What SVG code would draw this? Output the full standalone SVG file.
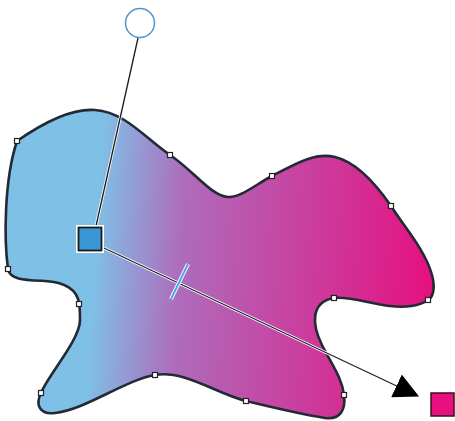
<svg xmlns="http://www.w3.org/2000/svg" width="455" height="421" viewBox="0 0 455 421">
<defs>
<linearGradient id="g" gradientUnits="userSpaceOnUse" x1="95" y1="250" x2="435" y2="270">
<stop offset="0" stop-color="#7fc0e6"/>
<stop offset="0.25" stop-color="#ae6cbc"/>
<stop offset="1" stop-color="#e6107f"/>
</linearGradient>
<marker id="arr" viewBox="0 0 10 10" refX="2" refY="5" markerWidth="25" markerHeight="25" markerUnits="userSpaceOnUse" orient="auto">
<path d="M0,0 L10,5 L0,10 Z" fill="#000"/>
</marker>
</defs>
<style>
.node{fill:#fff;stroke:#222;stroke-width:1.2}
.outline{stroke:#222a35;stroke-width:2.6;fill:url(#g)}
</style>
<g id="shape">
<path class="outline" d="M17,141 C40,125 70,108 95,110 C125,112 145,138 170,155 C195,172 210,195 228,197 C240,198 255,185 272,176 C295,164 315,152 335,157 C360,163 380,190 391,206 C405,228 425,250 432,275 C436,290 432,298 428,300 C420,306 405,308 390,306 C370,304 350,296 334,298 C310,302 312,325 322,345 C332,365 342,378 344,395 C346,410 340,420 325,418 C300,414 275,408 246,401 C215,393 185,370 155,375 C125,380 85,410 55,413 C40,415 35,405 41,393 C48,375 80,340 80,320 C80,312 80,308 79,304 C78,290 65,282 45,281 C25,280 10,280 8,269 C4,240 4,180 17,141 Z"/>
</g>
<g id="nodes">
<rect class="node" x="14.5" y="138.5" width="5" height="5"/>
<rect class="node" x="167.5" y="152.5" width="5" height="5"/>
<rect class="node" x="269.5" y="173.5" width="5" height="5"/>
<rect class="node" x="388.5" y="203.5" width="5" height="5"/>
<rect class="node" x="425.5" y="297.5" width="5" height="5"/>
<rect class="node" x="331.5" y="295.5" width="5" height="5"/>
<rect class="node" x="341.5" y="392.5" width="5" height="5"/>
<rect class="node" x="243.5" y="398.5" width="5" height="5"/>
<rect class="node" x="152.5" y="372.5" width="5" height="5"/>
<rect class="node" x="38.5" y="390.5" width="5" height="5"/>
<rect class="node" x="76.5" y="301.5" width="5" height="5"/>
<rect class="node" x="5.5" y="266.5" width="5" height="5"/>
</g>
<g id="connectors">
<line x1="138" y1="38" x2="96" y2="226" stroke="#fff" stroke-width="3"/>
<line x1="138" y1="38" x2="96" y2="226" stroke="#1a1a1a" stroke-width="1.3"/>
<line x1="104" y1="248" x2="401" y2="388" stroke="#fff" stroke-width="3"/>
<line x1="104" y1="248" x2="401" y2="388" stroke="#1a2030" stroke-width="1.2" marker-end="url(#arr)"/>
<line x1="188" y1="264" x2="171" y2="299" stroke="#fff" stroke-width="4"/>
<line x1="188" y1="264" x2="171" y2="299" stroke="#49a6ee" stroke-width="2"/>
</g>
<g id="rotate-handle">
<circle cx="140" cy="23" r="14.5" fill="#fff" stroke="#4f95cf" stroke-width="1.5"/>
</g>
<g id="start-handle">
<rect x="76" y="225" width="28" height="28" fill="#fff"/>
<rect x="78.5" y="227.5" width="23" height="23" fill="#3a97d6" stroke="#1a1a1a" stroke-width="1.8"/>
</g>
<g id="end-handle">
<rect x="431" y="393" width="23" height="23" fill="#e8107f" stroke="#3a1020" stroke-width="1.5"/>
</g>
</svg>
